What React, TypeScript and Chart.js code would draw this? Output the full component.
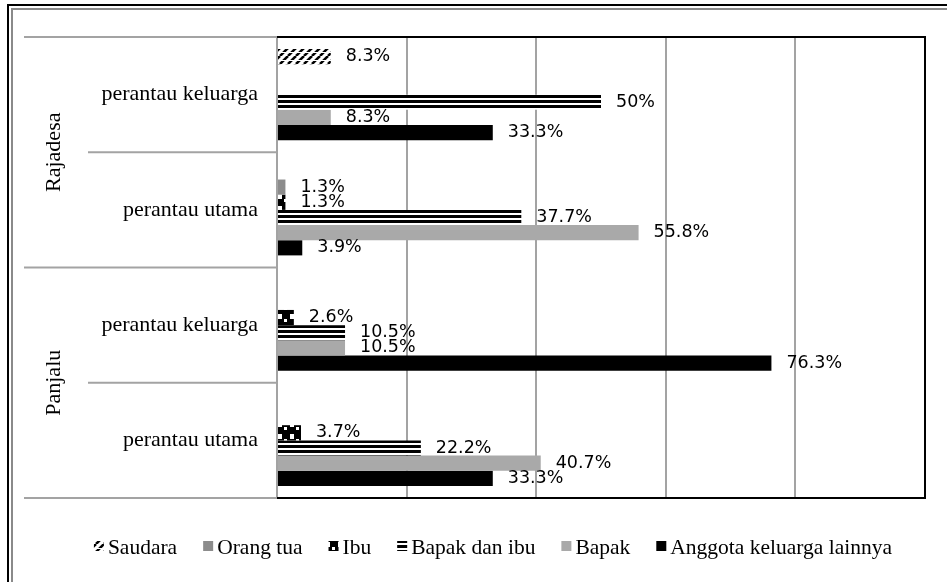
import React, { useEffect, useRef } from "react";
import { Chart, registerables } from "chart.js";

Chart.register(...registerables);

// ---- data ----
const categories = ["perantau keluarga", "perantau utama", "perantau keluarga", "perantau utama"];
const groups = ["Rajadesa", "Panjalu"];
const seriesNames = ["Saudara", "Orang tua", "Ibu", "Bapak dan ibu", "Bapak", "Anggota keluarga lainnya"];
const saudara = [8.3, 0, 0, 0];
const orangTua = [0, 1.3, 0, 0];
const ibu = [0, 1.3, 2.6, 3.7];
const bapakDanIbu = [50, 37.7, 10.5, 22.2];
const bapak = [8.3, 55.8, 10.5, 40.7];
const anggota = [33.3, 3.9, 76.3, 33.3];
const xMin = 0;
const xMax = 100;
const xStep = 20;

const SERIF = "'Liberation Serif', 'Times New Roman', serif";
const SANS = "'DejaVu Sans', Verdana, sans-serif";
const GRID = "#a3a3a3";

function makePattern(w: number, h: number, draw: (g: CanvasRenderingContext2D) => void) {
  const c = document.createElement("canvas");
  c.width = w;
  c.height = h;
  const g = c.getContext("2d")!;
  draw(g);
  return g.createPattern(c, "repeat")!;
}

export default function App() {
  const ref = useRef<HTMLCanvasElement | null>(null);

  useEffect(() => {
    const canvas = ref.current!;
    const hatch = makePattern(8, 8, (g) => {
      g.fillStyle = "#fff";
      g.fillRect(0, 0, 8, 8);
      g.strokeStyle = "#000";
      g.lineWidth = 2.6;
      for (const o of [-8, 0, 8]) {
        g.beginPath();
        g.moveTo(o, 8);
        g.lineTo(o + 8, 0);
        g.stroke();
      }
      g.fillStyle = "#fff";
      g.fillRect(0, 4, 8, 1);
    });
    const squares = makePattern(12, 12, (g) => {
      g.fillStyle = "#000";
      g.fillRect(0, 0, 12, 12);
      g.fillStyle = "#fff";
      g.fillRect(2, 2, 4, 5);
      g.fillRect(8, 7, 3, 3);
    });
    const stripes = makePattern(4, 5, (g) => {
      g.fillStyle = "#fff";
      g.fillRect(0, 0, 4, 5);
      g.fillStyle = "#000";
      g.fillRect(0, 0, 4, 3);
    });

    const values = [saudara, orangTua, ibu, bapakDanIbu, bapak, anggota];
    const fills: any[] = [hatch, "#8c8c8c", squares, stripes, "#a9a9a9", "#000000"];

    const framePlugin = {
      id: "frame",
      beforeDraw(chart: any) {
        const ctx = chart.ctx;
        ctx.save();
        ctx.fillStyle = "#fff";
        ctx.fillRect(0, 0, chart.width, chart.height);
        ctx.fillStyle = "#000";
        ctx.fillRect(7, 4, chart.width - 7, 2);
        ctx.fillRect(7, 4, 2, chart.height - 4);
        ctx.fillStyle = "#8a8a8a";
        ctx.fillRect(11, 8, chart.width - 11, 2);
        ctx.fillRect(11, 8, 2, chart.height - 8);
        ctx.restore();
      },
      afterDatasetsDraw(chart: any) {
        const ctx = chart.ctx;
        const { left, right, top, bottom } = chart.chartArea;
        ctx.save();
        // data labels
        ctx.font = `17.5px ${SANS}`;
        ctx.fillStyle = "#000";
        ctx.textAlign = "left";
        ctx.textBaseline = "middle";
        chart.data.datasets.forEach((ds: any, i: number) => {
          const meta = chart.getDatasetMeta(i);
          meta.data.forEach((el: any, j: number) => {
            const v = ds.data[j];
            if (!v) return;
            ctx.fillText(`${v}%`, el.x + 15, el.y);
          });
        });
        // plot border
        ctx.strokeStyle = "#000";
        ctx.lineWidth = 2;
        ctx.beginPath();
        ctx.moveTo(left, top);
        ctx.lineTo(right, top);
        ctx.lineTo(right, bottom);
        ctx.lineTo(left, bottom);
        ctx.stroke();
        ctx.restore();
      },
      afterDraw(chart: any) {
        const ctx = chart.ctx;
        const { left, top, bottom } = chart.chartArea;
        const h = (bottom - top) / categories.length;
        ctx.save();
        ctx.strokeStyle = GRID;
        ctx.lineWidth = 2;
        for (let i = 0; i <= categories.length; i++) {
          const y = top + i * h;
          ctx.beginPath();
          ctx.moveTo(i % 2 === 0 ? 24 : 88, y);
          ctx.lineTo(left, y);
          ctx.stroke();
        }
        ctx.fillStyle = "#000";
        ctx.font = `22px ${SERIF}`;
        ctx.textAlign = "center";
        ctx.textBaseline = "alphabetic";
        groups.forEach((g, gi) => {
          const cy = top + (gi * 2 + 1) * h;
          ctx.save();
          ctx.translate(60, cy);
          ctx.rotate(-Math.PI / 2);
          ctx.fillText(g, 0, 0);
          ctx.restore();
        });

        // legend
        ctx.font = `21.5px ${SERIF}`;
        ctx.textAlign = "left";
        ctx.textBaseline = "alphabetic";
        const box = 10;
        const gapIn = 4;
        const gapOut = 26;
        const items = chart.data.datasets.map((ds: any) => ({
          text: ds.label,
          fill: ds.backgroundColor,
          w: ctx.measureText(ds.label).width,
        }));
        const total =
          items.reduce((s: number, it: any) => s + box + gapIn + it.w, 0) + gapOut * (items.length - 1);
        const legendRight = 892;
        let x = legendRight - total;
        const baseline = 554;
        items.forEach((it: any) => {
          ctx.fillStyle = it.fill;
          ctx.fillRect(x, baseline - 13, box, box);
          x += box + gapIn;
          ctx.fillStyle = "#000";
          ctx.fillText(it.text, x, baseline);
          x += it.w + gapOut;
        });
        ctx.restore();
      },
    };

    const chart = new Chart(canvas, {
      type: "bar",
      data: {
        labels: categories,
        datasets: seriesNames.map((name, i) => ({
          label: name,
          data: values[i],
          backgroundColor: fills[i],
          borderWidth: 0,
          categoryPercentage: 0.79,
          barPercentage: 1.0,
        })),
      },
      options: {
        indexAxis: "y",
        responsive: false,
        animation: false,
        devicePixelRatio: 1,
        events: [],
        layout: { padding: { left: 64, right: 22, top: 37, bottom: 0 } },
        scales: {
          x: {
            min: xMin,
            max: xMax,
            ticks: { display: false, stepSize: xStep },
            grid: { color: GRID, lineWidth: 2, drawTicks: false },
            border: { display: false },
            afterFit: (s: any) => {
              s.height = 84;
            },
          },
          y: {
            ticks: {
              color: "#000",
              font: { family: SERIF, size: 22 },
              padding: 19,
              autoSkip: false,
            },
            grid: { display: false, drawTicks: false },
            border: { display: false },
            afterFit: (s: any) => {
              s.width = 213;
            },
          },
        },
        plugins: {
          legend: { display: false },
          tooltip: { enabled: false },
        },
      },
      plugins: [framePlugin],
    });
    return () => chart.destroy();
  }, []);

  return (
    <div style={{ position: "absolute", left: 0, top: 0, width: 947, height: 582 }}>
      <canvas ref={ref} width={947} height={582} />
    </div>
  );
}
